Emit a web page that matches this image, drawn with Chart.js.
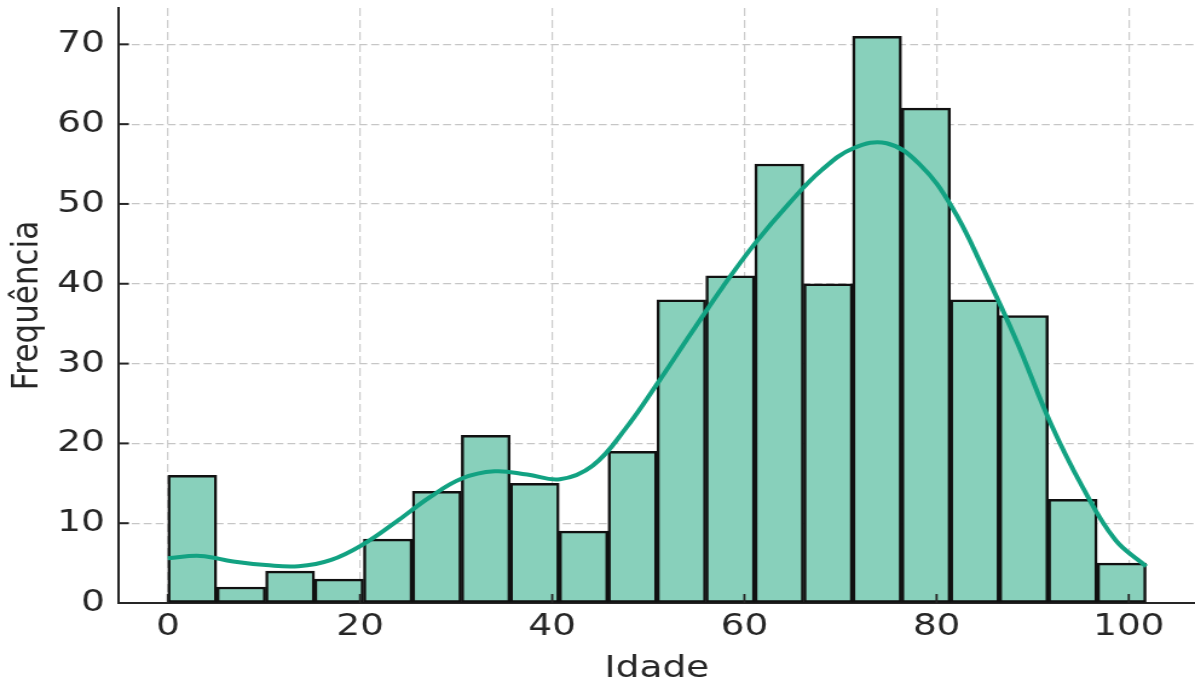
<!DOCTYPE html>
<html>
<head>
<meta charset="utf-8">
<script src="https://cdn.jsdelivr.net/npm/chart.js@4/dist/chart.umd.min.js"></script>
<style>
  html, body { margin: 0; padding: 0; background: #ffffff; overflow: hidden; }
</style>
</head>
<body>
<canvas id="c" width="988" height="684" style="display:block;width:1195px;height:684px;"></canvas>
<script>
// ---- data ----
const binWidth = 5.09;
const binCounts = [16, 2, 4, 3, 8, 14, 21, 15, 9, 19, 38, 41, 55, 40, 71, 62, 38, 36, 13, 5];
const kdeX = [0, 3.4, 6.8, 10.2, 13.6, 17, 20.4, 23.8, 27.2, 30.6, 34, 37.4, 40.8, 44.2, 47.6, 51, 54.4, 57.8, 61.2, 64.6, 68, 71.4, 74.8, 78.2, 81.6, 85, 88.4, 91.8, 95.2, 98.6, 101.8];
const kdeY = [5.6, 5.9, 5.2, 4.75, 4.6, 5.4, 7.4, 10.2, 13.2, 15.6, 16.5, 16.1, 15.5, 17.2, 21.8, 27.6, 33.7, 39.7, 45.2, 50, 54.2, 57, 57.6, 55, 49.6, 41.5, 32.6, 22.7, 14.5, 7.9, 4.6];
const xTickStep = 20;
const yTickStep = 10;
const xTitle = 'Idade';
const yTitle = 'Frequência';

// ---- derived tables ----
const barData = binCounts.map((c, i) => ({ x: (i + 0.5) * binWidth, y: c }));
const lineData = kdeX.map((x, i) => ({ x: x, y: kdeY[i] }));
const dataMax = binWidth * binCounts.length;
const xMin = -0.05 * dataMax, xMax = dataMax * 1.05;
const yMax = Math.max(...binCounts) * 1.05;

const SX = 1.21; // horizontal stretch of the canvas
const FONT = 'DejaVu Sans';
const DARK = '#262626';

const inwardTicks = {
  id: 'inwardTicks',
  afterDatasetsDraw(chart) {
    const { ctx, chartArea } = chart;
    const xs = chart.scales.x, ys = chart.scales.y;
    ctx.save();
    ctx.strokeStyle = DARK;
    ctx.lineWidth = 1.8;
    xs.ticks.forEach(t => {
      const px = xs.getPixelForValue(t.value);
      ctx.beginPath();
      ctx.moveTo(px, chartArea.bottom);
      ctx.lineTo(px, chartArea.bottom - 9);
      ctx.stroke();
    });
    ctx.lineWidth = 2;
    ys.ticks.forEach(t => {
      const py = ys.getPixelForValue(t.value);
      ctx.beginPath();
      ctx.moveTo(chartArea.left, py);
      ctx.lineTo(chartArea.left + 10 / SX, py);
      ctx.stroke();
    });
    ctx.restore();
  }
};

new Chart(document.getElementById('c'), {
  type: 'bar',
  data: {
    datasets: [
      {
        type: 'line',
        data: lineData,
        borderColor: '#12a282',
        borderWidth: 4,
        pointRadius: 0,
        fill: false,
        tension: 0.4,
        order: 0
      },
      {
        type: 'bar',
        data: barData,
        backgroundColor: '#88d0bb',
        borderColor: '#111111',
        borderWidth: 2.5,
        borderSkipped: false,
        barPercentage: 1,
        categoryPercentage: 1,
        order: 1
      }
    ]
  },
  options: {
    responsive: false,
    animation: false,
    devicePixelRatio: 1,
    layout: { padding: { top: 8, right: 0, left: 0, bottom: 0 } },
    plugins: { legend: { display: false }, tooltip: { enabled: false } },
    scales: {
      x: {
        type: 'linear',
        min: xMin,
        max: xMax,
        offset: false,
        grid: { color: '#cccccc', lineWidth: 1.2, drawTicks: false, offset: false },
        border: { display: true, color: DARK, width: 2, dash: [8, 4] },
        ticks: {
          stepSize: xTickStep,
          includeBounds: false,
          padding: 5,
          color: DARK,
          font: { family: FONT, size: 31 },
          maxRotation: 0,
          autoSkip: false
        },
        title: {
          display: true,
          text: xTitle,
          color: DARK,
          font: { family: FONT, size: 31, lineHeight: 1 },
          padding: { top: 0, bottom: 0 }
        },
        afterFit(scale) {
          scale.height = 81;
          scale.paddingLeft = 0; scale.paddingRight = 0;
          scale.paddingTop = 0; scale.paddingBottom = 0;
        }
      },
      y: {
        type: 'linear',
        min: 0,
        max: yMax,
        grid: { color: '#c6c6c6', lineWidth: 1.2, drawTicks: false },
        border: { display: true, color: DARK, width: 2, dash: [6.6, 3.3] },
        ticks: {
          stepSize: yTickStep,
          includeBounds: false,
          padding: 11.5,
          color: DARK,
          font: { family: FONT, size: 31 }
        },
        title: {
          display: true,
          text: yTitle,
          color: DARK,
          font: { family: FONT, size: 31, lineHeight: 1 },
          padding: { top: 7.4, bottom: 0 }
        },
        afterFit(scale) {
          scale.width = 98.3;
          scale.paddingLeft = 0; scale.paddingRight = 0;
          scale.paddingTop = 0; scale.paddingBottom = 0;
        }
      }
    }
  },
  plugins: [inwardTicks]
});
</script>
</body>
</html>
